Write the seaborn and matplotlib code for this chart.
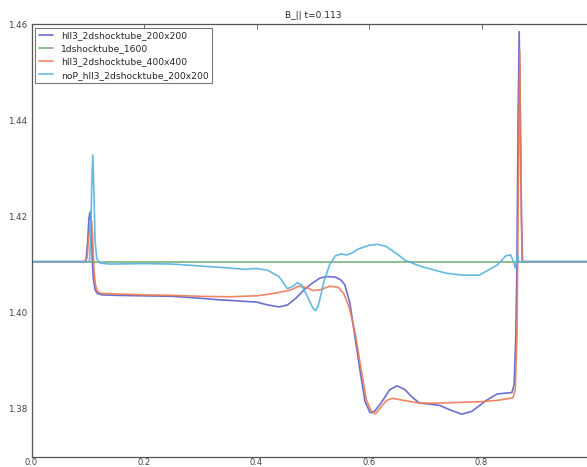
import matplotlib
matplotlib.use("Agg")
import matplotlib.pyplot as plt
import seaborn as sns
import pandas as pd

# B_parallel profiles along the shock tube
run_names = ["hll3_2dshocktube_200x200", "1dshocktube_1600",
             "hll3_2dshocktube_400x400", "noP_hll3_2dshocktube_200x200"]
run_colors = ["#5a60c8", "#6aaa6a", "#ee7a55", "#55b2e0"]

x_hll200 = [0.0, 0.094, 0.097, 0.100, 0.102, 0.104, 0.106, 0.108, 0.110, 0.113, 0.117,
            0.125, 0.15, 0.2, 0.25, 0.3, 0.33, 0.36, 0.4, 0.42, 0.44, 0.455, 0.47, 0.485,
            0.50, 0.513, 0.525, 0.54, 0.55, 0.557, 0.566, 0.575, 0.584, 0.593, 0.602,
            0.610, 0.623, 0.637, 0.650, 0.664, 0.676, 0.690, 0.708, 0.726, 0.744, 0.765,
            0.783, 0.800, 0.809, 0.828, 0.845, 0.854, 0.858, 0.861, 0.863, 0.865, 0.867,
            0.869, 0.871, 0.873, 1.0]
b_hll200 = [1.4106, 1.4106, 1.4110, 1.4150, 1.4195, 1.4209, 1.4180, 1.4110, 1.4070, 1.4048,
            1.4040, 1.4037, 1.4036, 1.4035, 1.4034, 1.4030, 1.4027, 1.4025, 1.4022, 1.4016,
            1.4012, 1.4016, 1.4030, 1.4048, 1.4062, 1.4072, 1.4075, 1.4074, 1.4068, 1.4058,
            1.4020, 1.3950, 1.3880, 1.3815, 1.3792, 1.3795, 1.3815, 1.3840, 1.3848, 1.3840,
            1.3825, 1.3812, 1.3810, 1.3807, 1.3798, 1.3789, 1.3795, 1.3810, 1.3818, 1.3831,
            1.3833, 1.3834, 1.3850, 1.3950, 1.4100, 1.4400, 1.4584, 1.4400, 1.4200, 1.4106,
            1.4106]

x_1d = [0.0, 1.0]
b_1d = [1.4106, 1.4106]

x_hll400 = [0.0, 0.096, 0.099, 0.102, 0.105, 0.107, 0.109, 0.111, 0.114, 0.118, 0.125,
            0.2, 0.25, 0.3, 0.35, 0.4, 0.42, 0.44, 0.46, 0.475, 0.49, 0.50, 0.515, 0.53,
            0.545, 0.555, 0.565, 0.575, 0.585, 0.595, 0.605, 0.612, 0.622, 0.632, 0.642,
            0.66, 0.69, 0.72, 0.75, 0.8, 0.83, 0.856, 0.860, 0.863, 0.866, 0.868, 0.870,
            0.872, 0.874, 1.0]
b_hll400 = [1.4106, 1.4106, 1.4115, 1.4160, 1.4188, 1.4190, 1.4150, 1.4090, 1.4055, 1.4043,
            1.4040, 1.4037, 1.4036, 1.4034, 1.4033, 1.4035, 1.4038, 1.4042, 1.4047, 1.4055,
            1.4052, 1.4046, 1.4048, 1.4055, 1.4053, 1.4040, 1.4010, 1.3960, 1.3890, 1.3820,
            1.3792, 1.3790, 1.3805, 1.3818, 1.3822, 1.3818, 1.3812, 1.3812, 1.3813, 1.3815,
            1.3818, 1.3823, 1.3840, 1.3950, 1.4300, 1.4546, 1.4300, 1.4110, 1.4106, 1.4106]

x_nop = [0.0, 0.103, 0.105, 0.107, 0.109, 0.111, 0.113, 0.116, 0.122, 0.14, 0.2, 0.25,
         0.3, 0.35, 0.38, 0.40, 0.42, 0.44, 0.455, 0.465, 0.472, 0.48, 0.49, 0.50, 0.505,
         0.51, 0.52, 0.53, 0.54, 0.55, 0.56, 0.57, 0.58, 0.60, 0.615, 0.63, 0.65, 0.664,
         0.69, 0.737, 0.767, 0.796, 0.813, 0.828, 0.843, 0.852, 0.857, 0.860, 0.862, 0.864,
         0.866, 1.0]
b_nop = [1.4106, 1.4106, 1.4150, 1.4260, 1.4328, 1.4250, 1.4150, 1.4112, 1.4103, 1.4101,
         1.4102, 1.4101, 1.4097, 1.4093, 1.4090, 1.4092, 1.4088, 1.4075, 1.4050, 1.4055,
         1.4062, 1.4058, 1.4035, 1.4010, 1.4004, 1.4015, 1.4065, 1.4100, 1.4118, 1.4122,
         1.4120, 1.4124, 1.4132, 1.4140, 1.4142, 1.4138, 1.4122, 1.4109, 1.4097, 1.4082,
         1.4078, 1.4078, 1.4089, 1.4099, 1.4118, 1.4120, 1.4105, 1.4093, 1.4105, 1.4124,
         1.4106, 1.4106]

frames = []
for name, xs, bs in zip(run_names,
                        [x_hll200, x_1d, x_hll400, x_nop],
                        [b_hll200, b_1d, b_hll400, b_nop]):
    frames.append(pd.DataFrame({"x": xs, "B": bs, "run": name}))
df = pd.concat(frames, ignore_index=True)

sns.set_theme(style="white")
plt.rcParams.update({
    "font.family": ["DejaVu Sans"],
    "xtick.direction": "in",
    "ytick.direction": "in",
    "xtick.top": True,
    "ytick.right": True,
    "xtick.major.size": 3.5,
    "ytick.major.size": 3.5,
    "xtick.major.width": 0.6,
    "ytick.major.width": 0.6,
    "xtick.color": "#555555",
    "ytick.color": "#555555",
    "xtick.labelcolor": "#444444",
    "ytick.labelcolor": "#444444",
    "axes.edgecolor": "#555555",
    "axes.linewidth": 0.9,
})

fig = plt.figure(figsize=(5.87, 4.67), dpi=100)
ax = fig.add_axes([31.5 / 587, 10 / 467, 562.5 / 587, 433 / 467])

sns.lineplot(data=df, x="x", y="B", hue="run", hue_order=run_names,
             palette=run_colors, estimator=None, sort=False, linewidth=1.2,
             alpha=0.9, ax=ax)

ax.set_xlim(0.0, 1.0)
ax.set_ylim(1.37, 1.46)
ax.set_xticks([0.0, 0.2, 0.4, 0.6, 0.8, 1.0])
ax.set_yticks([1.38, 1.40, 1.42, 1.44, 1.46])
ax.ticklabel_format(useOffset=False)
ax.tick_params(axis="y", labelsize=6.3, pad=3)
ax.tick_params(axis="x", labelsize=6.0, pad=0.8)
ax.set_xlabel("")
ax.set_ylabel("")
ax.set_title("B_|| t=0.113", fontsize=6.5, pad=4)

handles, labels = ax.get_legend_handles_labels()
leg = ax.legend(handles, labels, loc="upper left", fontsize=6.6, frameon=True,
                fancybox=False, edgecolor="#555555", handlelength=1.6,
                borderaxespad=0.4, labelspacing=0.45, borderpad=0.4)
leg.get_frame().set_linewidth(0.8)

fig.savefig("out.png", dpi=100)
